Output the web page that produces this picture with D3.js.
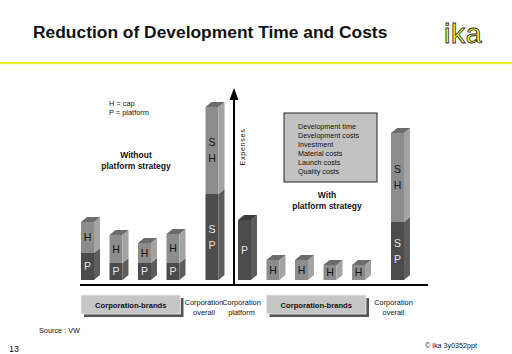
<!DOCTYPE html>
<html>
<head>
<meta charset="utf-8">
<script src="https://cdn.jsdelivr.net/npm/d3@7"></script>
<style>
  html, body { margin: 0; padding: 0; background: #fff; }
  svg { display: block; font-family: "Liberation Sans", Arial, sans-serif; }
</style>
</head>
<body>
<svg width="512" height="354"></svg>
<script>
// bars, left to right (ids must be unique for the band scale)
var bars = ["brandA1", "brandA2", "brandA3", "brandA4", "overallA",
            "platform", "brandB1", "brandB2", "brandB3", "brandB4", "overallB"];
var groups = ["without", "without", "without", "without", "without",
              "with", "with", "with", "with", "with", "with"];

// expense shares (arbitrary units)
var platformP = [27, 17, 17, 17, 0, 60, 0, 0, 0, 0, 0];
var sharedP   = [0, 0, 0, 0, 86, 0, 0, 0, 0, 0, 58];
var capH      = [31, 28, 20, 29, 0, 0, 20, 20, 15, 15, 0];
var sharedH   = [0, 0, 0, 0, 87, 0, 0, 0, 0, 0, 89];

var segLabels = { P: ["P"], SP: ["S", "P"], H: ["H"], SH: ["S", "H"] };
var effects = ["Development time", "Development costs", "Investment",
               "Material costs", "Launch costs", "Quality costs"];
var bottomLabels = [
  { bar: "overallA", lines: ["Corporation", "overall"] },
  { bar: "platform", lines: ["Corporation", "platform"] },
  { bar: "overallB", lines: ["Corporation", "overall"] }
];

function main() {
  var svg = d3.select("svg");

  // header
  svg.append("text")
    .attr("x", 33).attr("y", 37.5)
    .attr("font-size", 17.4).attr("font-weight", "bold")
    .attr("fill", "#111")
    .text("Reduction of Development Time and Costs");
  svg.append("text")
    .attr("x", 444).attr("y", 43)
    .attr("font-size", 28.5).attr("letter-spacing", 0.6)
    .attr("fill", "#ffff30").attr("stroke", "#333").attr("stroke-width", 0.9)
    .text("ika");
  svg.append("rect")
    .attr("x", 0).attr("y", 62).attr("width", 512).attr("height", 2.2)
    .attr("fill", "#eeee30");

  var table = bars.map(function(b, i) {
    return { id: b, group: groups[i], P: platformP[i], SP: sharedP[i], H: capH[i], SH: sharedH[i] };
  });
  var keys = ["P", "SP", "H", "SH"];
  var series = d3.stack().keys(keys)(table);

  var x = d3.scaleBand().domain(bars).range([81, 379]).paddingInner(0.544).paddingOuter(0);
  var y = d3.scaleLinear().domain([0, 180]).range([280, 100]);
  var bw = x.bandwidth();
  var dx = 6, dy = 5;
  var gapOverall = 10.5, gapAxis = 14.5;

  function bx(id) {
    var i = bars.indexOf(id);
    var g = 0;
    if (i >= 4) g += gapOverall;
    if (i >= 5) g += gapAxis - gapOverall;
    if (i >= 10) g += gapOverall;
    return x(id) + g;
  }

  var col = {
    dark:  { front: "#4b4b4b", side: "#5d5d5d", top: "#3a3a3a", text: "#e4e4e4" },
    light: { front: "#8c8c8c", side: "#a3a3a3", top: "#6c6c6c", text: "#111" }
  };
  function tone(k) { return (k === "P" || k === "SP") ? col.dark : col.light; }

  var totals = table.map(function(d) { return d.P + d.SP + d.H + d.SH; });

  var chart = svg.append("g");
  series.forEach(function(s) {
    var k = s.key;
    var c = tone(k);
    var segs = s.filter(function(d) { return d[1] > d[0]; });
    var g = chart.selectAll(".seg-" + k).data(segs).enter().append("g");

    g.append("rect")
      .attr("x", function(d) { return bx(d.data.id); })
      .attr("y", function(d) { return y(d[1]); })
      .attr("width", bw)
      .attr("height", function(d) { return y(d[0]) - y(d[1]); })
      .attr("fill", c.front);

    g.append("path")
      .attr("d", function(d) {
        var x0 = bx(d.data.id) + bw, yt = y(d[1]), yb = y(d[0]);
        return "M" + x0 + "," + yt + "L" + (x0 + dx) + "," + (yt - dy) +
               "L" + (x0 + dx) + "," + (yb - dy) + "L" + x0 + "," + yb + "Z";
      })
      .attr("fill", c.side);

    g.filter(function(d) { return d[1] === totals[bars.indexOf(d.data.id)]; })
      .append("path")
      .attr("d", function(d) {
        var x0 = bx(d.data.id), yt = y(d[1]);
        return "M" + x0 + "," + yt + "L" + (x0 + dx) + "," + (yt - dy) +
               "L" + (x0 + bw + dx) + "," + (yt - dy) + "L" + (x0 + bw) + "," + yt + "Z";
      })
      .attr("fill", c.top);

    g.each(function(d) {
      var lines = segLabels[k];
      var cy = (y(d[0]) + y(d[1])) / 2;
      var lh = 16;
      var t = d3.select(this).append("text")
        .attr("text-anchor", "middle")
        .attr("font-size", 10.5)
        .attr("fill", c.text);
      lines.forEach(function(l, j) {
        t.append("tspan")
          .attr("x", bx(d.data.id) + bw / 2)
          .attr("y", cy + (j - (lines.length - 1) / 2) * lh + 3.8)
          .text(l);
      });
    });
  });

  // axes
  var axisX = 234;
  svg.append("line")
    .attr("x1", 80).attr("x2", 428).attr("y1", 285).attr("y2", 285)
    .attr("stroke", "#000").attr("stroke-width", 2.2);
  svg.append("line")
    .attr("x1", axisX).attr("x2", axisX).attr("y1", 286).attr("y2", 96)
    .attr("stroke", "#000").attr("stroke-width", 2);
  svg.append("path")
    .attr("d", "M" + axisX + ",88L" + (axisX - 4.5) + ",100L" + (axisX + 4.5) + ",100Z")
    .attr("fill", "#000");
  svg.append("text")
    .attr("transform", "translate(245,147) rotate(-90)")
    .attr("text-anchor", "middle")
    .attr("font-size", 7.2).attr("letter-spacing", 0.7)
    .attr("fill", "#111")
    .text("Expenses");

  // annotations
  svg.append("text").attr("x", 109).attr("y", 105.5).attr("font-size", 7.4).attr("fill", "#111").text("H = cap");
  svg.append("text").attr("x", 109).attr("y", 114.5).attr("font-size", 7.4).attr("fill", "#111").text("P = platform");

  function strategy(cx, y0, first) {
    var t = svg.append("text").attr("text-anchor", "middle")
      .attr("font-size", 8.5).attr("font-weight", "bold").attr("fill", "#111");
    t.append("tspan").attr("x", cx).attr("y", y0).text(first);
    t.append("tspan").attr("x", cx).attr("y", y0 + 11).text("platform strategy");
  }
  strategy(136, 158, "Without");
  strategy(327, 198, "With");

  // effects box
  svg.append("rect")
    .attr("x", 284).attr("y", 113).attr("width", 93).attr("height", 69)
    .attr("fill", "#c2c2c2").attr("stroke", "#222").attr("stroke-width", 1);
  svg.append("g").selectAll("text").data(effects).enter().append("text")
    .attr("x", 298)
    .attr("y", function(d, i) { return 128.5 + i * 9; })
    .attr("font-size", 7.2).attr("fill", "#111")
    .text(function(d) { return d; });

  // brand group boxes
  var brandGroups = [["brandA1", "brandA4"], ["brandB1", "brandB4"]];
  brandGroups.forEach(function(p) {
    var x0 = bx(p[0]), x1 = bx(p[1]) + bw + 1;
    svg.append("rect").attr("x", x0 + 3).attr("y", 298).attr("width", x1 - x0).attr("height", 19)
      .attr("fill", "#555");
    svg.append("rect").attr("x", x0).attr("y", 295).attr("width", x1 - x0).attr("height", 19)
      .attr("fill", "#c6c6c6").attr("stroke", "#eee").attr("stroke-width", 0.8);
    svg.append("text")
      .attr("x", (x0 + x1) / 2).attr("y", 307.5)
      .attr("text-anchor", "middle")
      .attr("font-size", 7.6).attr("font-weight", "bold").attr("fill", "#111")
      .text("Corporation-brands");
  });

  // label offsets from the bar centre, so neighbouring labels do not touch
  var labelShift = { overallA: -8, platform: -3, overallB: -4 };
  bottomLabels.forEach(function(b) {
    var cx = bx(b.bar) + bw / 2 + labelShift[b.bar];
    var t = svg.append("text").attr("text-anchor", "middle")
      .attr("font-size", 7.4).attr("fill", "#111");
    b.lines.forEach(function(l, j) {
      t.append("tspan").attr("x", cx).attr("y", 304.5 + j * 10).text(l);
    });
  });

  // footer
  svg.append("text").attr("x", 39).attr("y", 332.5).attr("font-size", 7.3).attr("fill", "#111").text("Source : VW");
  svg.append("text").attr("x", 9).attr("y", 351.5).attr("font-size", 9).attr("fill", "#111").text("13");
  svg.append("text").attr("x", 425).attr("y", 347.5).attr("font-size", 7.2).attr("fill", "#111").text("© ika   3y0352ppt");
}

main();
</script>
</body>
</html>
